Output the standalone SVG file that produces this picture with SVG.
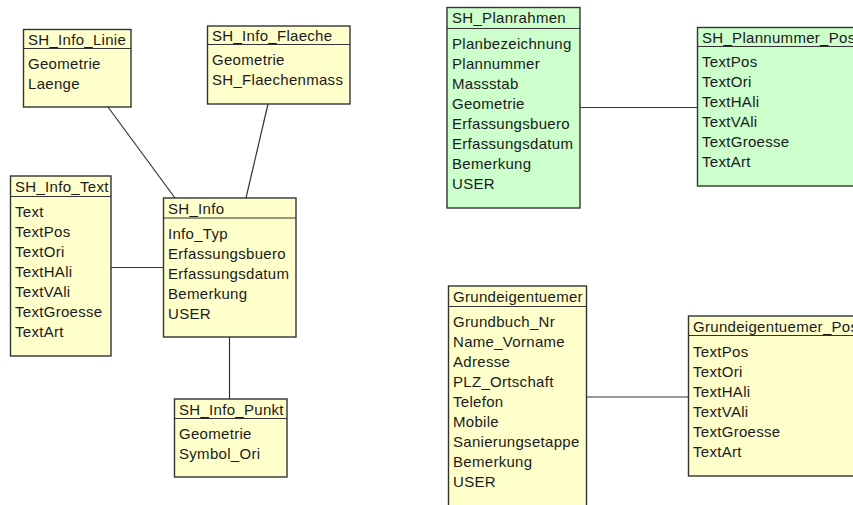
<svg xmlns="http://www.w3.org/2000/svg" width="853" height="505" viewBox="0 0 853 505">
<style>
.box{stroke:#333333;stroke-width:1.4}
.y{fill:#FFFFCC}
.g{fill:#CCFFCC}
.sep{stroke:#333333;stroke-width:1.2}
.conn line{stroke:#333333;stroke-width:1.2}
text{font-family:"Liberation Sans",Arial,sans-serif;font-size:15px;fill:#1a1a1a;letter-spacing:0.3px}
</style>
<rect width="853" height="505" fill="#ffffff"/>
<g id="connectors" class="conn">
<line x1="108" y1="107" x2="175" y2="198"/>
<line x1="268" y1="104" x2="246" y2="198"/>
<line x1="111" y1="267.5" x2="163" y2="267.5"/>
<line x1="229.5" y1="337" x2="229.5" y2="399"/>
<line x1="580" y1="107.5" x2="697" y2="107.5"/>
<line x1="587" y1="397" x2="688" y2="397"/>
</g>
<g id="SH_Info_Linie">
<rect class="box y" x="23.5" y="29.5" width="107.5" height="77.5"/>
<line class="sep" x1="23.5" y1="48.5" x2="131" y2="48.5"/>
<text x="28" y="44.5">SH_Info_Linie</text>
<text x="28" y="68.5">Geometrie</text>
<text x="28" y="88.5">Laenge</text>
</g>
<g id="SH_Info_Flaeche">
<rect class="box y" x="207.5" y="26" width="142.5" height="78"/>
<line class="sep" x1="207.5" y1="44.5" x2="350" y2="44.5"/>
<text x="212" y="41">SH_Info_Flaeche</text>
<text x="212" y="65">Geometrie</text>
<text x="212" y="85">SH_Flaechenmass</text>
</g>
<g id="SH_Info_Text">
<rect class="box y" x="10.5" y="176" width="100.5" height="180"/>
<line class="sep" x1="10.5" y1="196.5" x2="111" y2="196.5"/>
<text x="15" y="191.5">SH_Info_Text</text>
<text x="15" y="217">Text</text>
<text x="15" y="237">TextPos</text>
<text x="15" y="257">TextOri</text>
<text x="15" y="277">TextHAli</text>
<text x="15" y="297">TextVAli</text>
<text x="15" y="317">TextGroesse</text>
<text x="15" y="337">TextArt</text>
</g>
<g id="SH_Info">
<rect class="box y" x="163.5" y="198" width="132.5" height="139"/>
<line class="sep" x1="163.5" y1="218" x2="296" y2="218"/>
<text x="168" y="214">SH_Info</text>
<text x="168" y="238.5">Info_Typ</text>
<text x="168" y="258.5">Erfassungsbuero</text>
<text x="168" y="278.5">Erfassungsdatum</text>
<text x="168" y="298.5">Bemerkung</text>
<text x="168" y="318.5">USER</text>
</g>
<g id="SH_Info_Punkt">
<rect class="box y" x="174.5" y="399" width="112.5" height="78"/>
<line class="sep" x1="174.5" y1="418.5" x2="287" y2="418.5"/>
<text x="179" y="414.5">SH_Info_Punkt</text>
<text x="179" y="439">Geometrie</text>
<text x="179" y="459">Symbol_Ori</text>
</g>
<g id="SH_Planrahmen">
<rect class="box g" x="447" y="7.5" width="133" height="200.5"/>
<line class="sep" x1="447" y1="28.5" x2="580" y2="28.5"/>
<text x="452" y="23">SH_Planrahmen</text>
<text x="452" y="49">Planbezeichnung</text>
<text x="452" y="69">Plannummer</text>
<text x="452" y="89">Massstab</text>
<text x="452" y="109">Geometrie</text>
<text x="452" y="129">Erfassungsbuero</text>
<text x="452" y="149">Erfassungsdatum</text>
<text x="452" y="169">Bemerkung</text>
<text x="452" y="189">USER</text>
</g>
<g id="SH_Plannummer_Pos">
<rect class="box g" x="697.5" y="27.5" width="170" height="158.5"/>
<line class="sep" x1="697.5" y1="46.5" x2="867.5" y2="46.5"/>
<text x="702" y="42.5">SH_Plannummer_Pos</text>
<text x="702" y="67">TextPos</text>
<text x="702" y="87">TextOri</text>
<text x="702" y="107">TextHAli</text>
<text x="702" y="127">TextVAli</text>
<text x="702" y="147">TextGroesse</text>
<text x="702" y="167">TextArt</text>
</g>
<g id="Grundeigentuemer">
<rect class="box y" x="448.5" y="286" width="138" height="240"/>
<line class="sep" x1="448.5" y1="306.5" x2="586.5" y2="306.5"/>
<text x="453" y="302">Grundeigentuemer</text>
<text x="453" y="327">Grundbuch_Nr</text>
<text x="453" y="347">Name_Vorname</text>
<text x="453" y="367">Adresse</text>
<text x="453" y="387">PLZ_Ortschaft</text>
<text x="453" y="407">Telefon</text>
<text x="453" y="427">Mobile</text>
<text x="453" y="447">Sanierungsetappe</text>
<text x="453" y="467">Bemerkung</text>
<text x="453" y="487">USER</text>
</g>
<g id="Grundeigentuemer_Pos">
<rect class="box y" x="688.5" y="316" width="180" height="160"/>
<line class="sep" x1="688.5" y1="335.5" x2="868.5" y2="335.5"/>
<text x="693" y="331.5">Grundeigentuemer_Pos</text>
<text x="693" y="356.5">TextPos</text>
<text x="693" y="376.5">TextOri</text>
<text x="693" y="396.5">TextHAli</text>
<text x="693" y="416.5">TextVAli</text>
<text x="693" y="436.5">TextGroesse</text>
<text x="693" y="456.5">TextArt</text>
</g>
</svg>
